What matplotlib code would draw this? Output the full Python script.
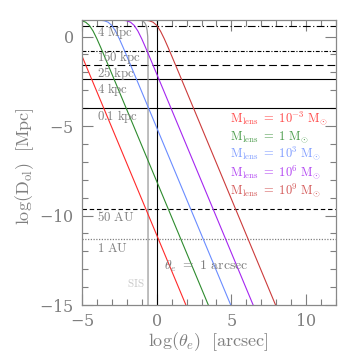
import matplotlib
matplotlib.use("Agg")
import matplotlib.pyplot as plt

plt.rcParams['mathtext.fontset'] = 'cm'
plt.rcParams['font.family'] = ['DejaVu Serif']
plt.rcParams['axes.formatter.use_mathtext'] = True

# ---- data ----
# curves: log(theta_e) [arcsec] vs log(D_ol) [Mpc], one per lens mass
mass_labels = [r'10^{-3}', r'1', r'10^{3}', r'10^{6}', r'10^{9}']
mass_colors = ['#ff2a2a', '#2e8b2e', '#6a8cff', '#a526f0', '#cc3b3b']

x_m3 = [-5.0, 1.955]
y_m3 = [-1.09, -15.0]

x_m0 = [-5.0, -4.755, -4.505, -4.255, -4.005, -3.755, -3.505, -3.005, 3.456]
y_m0 = [0.878, 0.801, 0.619, 0.301, -0.121, -0.594, -1.084, -2.08, -15.0]

x_m3p = [-5.0, -4.005, -3.755, -3.505, -3.255, -3.005, -2.755, -2.505, -2.255, -2.005, -1.505, 4.956]
y_m3p = [0.92, 0.916, 0.906, 0.879, 0.801, 0.619, 0.301, -0.121, -0.594, -1.084, -2.08, -15.0]

x_m6 = [-5.0, -2.505, -2.255, -2.005, -1.755, -1.505, -1.255, -1.005, -0.755, -0.505, -0.005, 6.456]
y_m6 = [0.92, 0.916, 0.906, 0.879, 0.801, 0.619, 0.301, -0.121, -0.594, -1.084, -2.08, -15.0]

x_m9 = [-5.0, -0.995, -0.745, -0.495, -0.245, 0.005, 0.255, 0.505, 0.755, 1.005, 1.505, 7.956]
y_m9 = [0.92, 0.916, 0.906, 0.879, 0.801, 0.619, 0.301, -0.121, -0.594, -1.084, -2.08, -15.0]

curves_x = [x_m3, x_m0, x_m3p, x_m6, x_m9]
curves_y = [y_m3, y_m0, y_m3p, y_m6, y_m9]

# SIS curve
x_sis = [-5.0, -1.15, -1.0, -0.88, -0.78, -0.70, -0.64, -0.60, -0.585, -0.58, -0.58]
y_sis = [0.93, 0.92, 0.89, 0.84, 0.74, 0.6, 0.35, 0.0, -0.8, -2.0, -15.0]

# reference distances (horizontal lines)
ref_values = [0.6, -0.82, -1.6, -2.4, -4.0, -9.62, -11.31]
ref_labels = ['4 Mpc', '150 kpc', '25 kpc', '4 kpc', '0.1 kpc', '50 AU', '1 AU']
ref_label_y = [0.05, -1.36, -2.24, -3.13, -4.68, -10.3, -12.03]

theta_one = 0.0   # theta_e = 1 arcsec
x_ticks = [-5, 0, 5, 10]
y_ticks = [-15, -10, -5, 0]

# ---- figure ----
fig = plt.figure(figsize=(3.54, 3.54), dpi=100)
ax = fig.add_axes([0.2316, 0.1384, 0.7175, 0.8065])

grey = '#7f7f7f'
ref_styles = [
    dict(color='k', ls=(0, (7, 2.2, 1, 2.2)), lw=0.8),
    dict(color='k', ls=(0, (3.5, 1.5, 1, 1.5)), lw=0.8),
    dict(color='k', ls=(0, (7, 3.5)), lw=0.8),
    dict(color='k', ls='-', lw=0.8),
    dict(color='k', ls='-', lw=0.8),
    dict(color='k', ls=(0, (4, 2.5)), lw=0.8),
    dict(color='#808080', ls=(0, (1, 1.2)), lw=0.9),
]
for v, st in zip(ref_values, ref_styles):
    ax.axhline(v, **st)

ax.axvline(theta_one, color='k', lw=0.8)
ax.plot(x_sis, y_sis, color='#999999', lw=0.9)

for xs, ys, c in zip(curves_x, curves_y, mass_colors):
    ax.plot(xs, ys, color=c, lw=0.8)

for lab, yv in zip(ref_labels, ref_label_y):
    ax.text(-4.0, yv, r'$\mathrm{' + lab.replace(' ', r'\ ') + '}$', color=grey,
            fontsize=9.2, va='baseline', ha='left')

leg_y = [-4.77, -5.77, -6.77, -7.79, -8.81]
for lab, c, yv in zip(mass_labels, mass_colors, leg_y):
    ax.text(4.93, yv, r'$\mathrm{M_{lens}}\ =\ \mathrm{' + lab + r'}\ \mathrm{M}_{\odot}$',
            color=c, fontsize=9, va='baseline', ha='left', alpha=0.85)

ax.text(0.47, -13.04, r'$\theta_e\ =\ \mathrm{1\ arcsec}$', color=grey, fontsize=10,
        va='baseline', ha='left')
ax.text(-2.02, -14.0, r'$\mathrm{SIS}$', color='#c8c8c8', fontsize=8, va='baseline', ha='left')

ax.set_xlim(-5, 12)
ax.set_ylim(-15, 0.95)
ax.set_xticks(x_ticks)
ax.set_yticks(y_ticks)
ax.set_xticks(range(-5, 13), minor=True)
ax.set_yticks(range(-15, 1), minor=True)
ax.tick_params(which='both', direction='in', top=True, right=True, colors=grey,
               labelsize=11.5, pad=6)
ax.tick_params(which='major', length=8, width=0.8)
ax.tick_params(which='minor', length=4, width=0.8)
for s in ax.spines.values():
    s.set_color('#888888')
    s.set_linewidth(0.9)

fig.text(208 / 354, 1 - 346 / 354, r'$\mathrm{log(}\theta_e\mathrm{)\ \ [arcsec]}$',
         color=grey, fontsize=13, ha='center', va='baseline')
fig.text(25 / 354, 1 - 166 / 354, r'$\mathrm{log(D_{ol})\ \ [Mpc]}$',
         color=grey, fontsize=13, ha='center', va='center', rotation=90)

fig.savefig('out.png', dpi=100)
